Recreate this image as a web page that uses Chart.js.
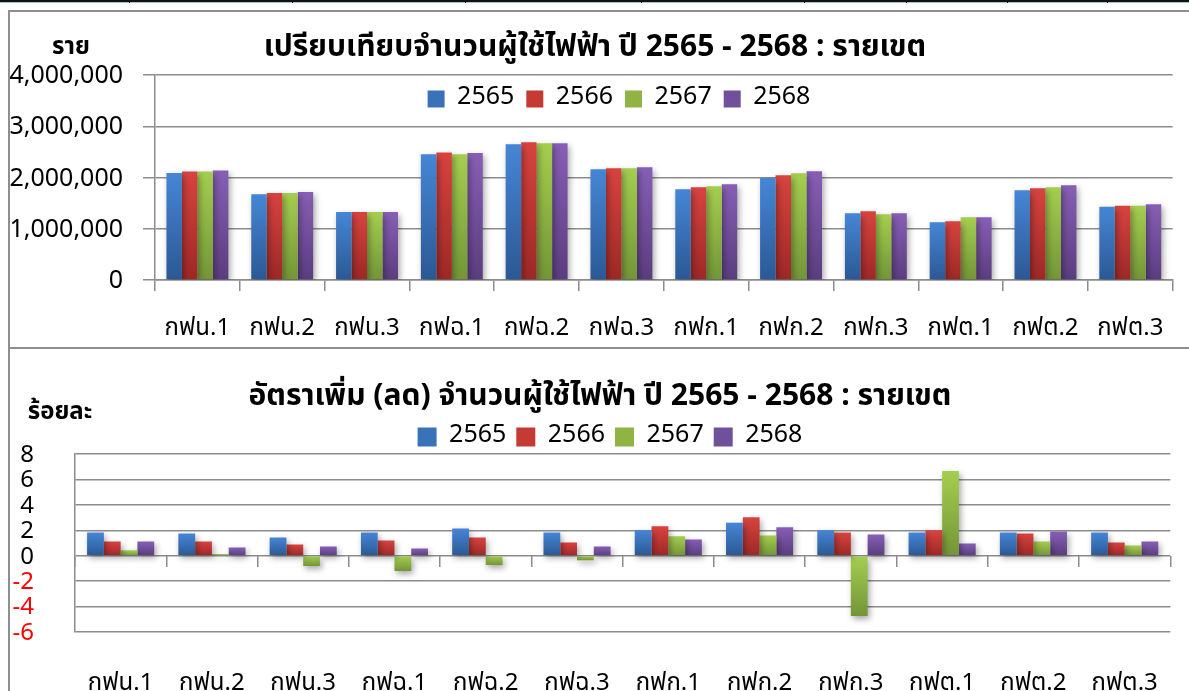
<!DOCTYPE html>
<html>
<head>
<meta charset="utf-8">
<script src="https://cdn.jsdelivr.net/npm/chart.js@4.4.1/dist/chart.umd.min.js"></script>
<style>
  html, body { margin:0; padding:0; background:#fff; width:1189px; height:691px; overflow:hidden; }
  body { position:relative; font-family:"Noto Sans Thai","Noto Sans Thai UI","Leelawadee UI","Tahoma","Noto Sans",sans-serif; }
  .topline { position:absolute; left:0; top:0; width:1189px; height:2px; background:#111; }
  .topline2 { position:absolute; left:0; top:2px; width:1189px; height:1px; background:#9fc7d2; }
  .tick { position:absolute; top:0; width:1px; height:3px; background:#111; }
  .box { position:absolute; left:8px; width:1200px; border:2px solid #8f8f8f; box-sizing:border-box; }
  .cv { position:absolute; left:10px; }
  .txt { position:absolute; white-space:nowrap; color:#000; font-weight:bold; transform:translate(-50%,-50%); line-height:1; }
</style>
</head>
<body>
<div class="topline"></div><div class="topline2"></div>
<div class="tick" style="left:129px"></div><div class="tick" style="left:292px"></div>
<div class="tick" style="left:465px"></div><div class="tick" style="left:641px"></div>
<div class="tick" style="left:804px"></div><div class="tick" style="left:906px"></div>
<div class="tick" style="left:1007px"></div><div class="tick" style="left:1107px"></div>

<div class="box" style="top:10px;height:339px;"></div>
<div class="box" style="top:347px;height:360px;"></div>

<div class="cv" style="top:12px;width:1179px;height:334px;"><canvas id="c1"></canvas></div>
<div class="cv" style="top:349px;width:1179px;height:342px;"><canvas id="c2"></canvas></div>

<div class="txt" style="left:595px;top:47px;font-size:30px;">เปรียบเทียบจำนวนผู้ใช้ไฟฟ้า ปี 2565 - 2568 : รายเขต</div>
<div class="txt" style="left:71px;top:47px;font-size:24px;">ราย</div>
<div class="txt" style="left:600px;top:396px;font-size:30px;">อัตราเพิ่ม (ลด) จำนวนผู้ใช้ไฟฟ้า ปี 2565 - 2568 : รายเขต</div>
<div class="txt" style="left:60px;top:412px;font-size:24px;">ร้อยละ</div>

<script>
// ---------- DATA ----------
const regions = ["กฟน.1","กฟน.2","กฟน.3","กฟฉ.1","กฟฉ.2","กฟฉ.3","กฟก.1","กฟก.2","กฟก.3","กฟต.1","กฟต.2","กฟต.3"];
const years = ["2565","2566","2567","2568"];

// Number of electricity users (persons)
const users2565 = [2087000,1672000,1329000,2456000,2651000,2160000,1770000,1991000,1301000,1126000,1750000,1431000];
const users2566 = [2119000,1698000,1329000,2489000,2690000,2180000,1809000,2043000,1340000,1145000,1789000,1451000];
const users2567 = [2119000,1698000,1329000,2456000,2670000,2180000,1828000,2082000,1282000,1223000,1809000,1451000];
const users2568 = [2139000,1717000,1329000,2476000,2670000,2199000,1867000,2121000,1301000,1223000,1848000,1477000];

// Growth rate (percent)
const growth2565 = [1.82,1.74,1.43,1.82,2.14,1.82,2.00,2.60,2.00,1.82,1.82,1.82];
const growth2566 = [1.12,1.12,0.89,1.20,1.43,1.04,2.32,3.02,1.82,2.00,1.74,1.04];
const growth2567 = [0.42,0.13,-0.81,-1.20,-0.73,-0.36,1.54,1.59,-4.74,6.66,1.12,0.81];
const growth2568 = [1.12,0.65,0.73,0.57,0.00,0.73,1.28,2.24,1.67,0.96,1.90,1.12];

const usersTicks = [0,1000000,2000000,3000000,4000000];
const growthTicks = [-6,-4,-2,0,2,4,6,8];

// ---------- STYLE ----------
const FONT = '"Noto Sans Thai","Noto Sans Thai UI","Leelawadee UI",Tahoma,"Noto Sans",sans-serif';
const GRID = '#8c8c8c';
const palette = [
  {top:'#4686d6', bottom:'#2b5894', solid:'#3a72b8'},
  {top:'#d8433f', bottom:'#9c2826', solid:'#c53a33'},
  {top:'#a5ce4f', bottom:'#739537', solid:'#8fb444'},
  {top:'#875eb5', bottom:'#5a3d7e', solid:'#71509b'}
];

function barGradient(i) {
  return function(c) {
    const chart = c.chart;
    const ys = chart.scales.y;
    if (!ys || c.raw === undefined || !chart.chartArea) return palette[i].solid;
    const p0 = ys.getPixelForValue(0), p1 = ys.getPixelForValue(c.raw);
    const a = Math.min(p0,p1), b = Math.max(p0,p1);
    if (b - a < 1) return palette[i].solid;
    const g = chart.ctx.createLinearGradient(0, a, 0, b);
    g.addColorStop(0, palette[i].top);
    g.addColorStop(1, palette[i].bottom);
    return g;
  };
}

const shadowPlugin = {
  id: 'shadow',
  beforeDatasetsDraw(chart) {
    const ctx = chart.ctx;
    ctx.save();
    ctx.shadowColor = 'rgba(0,0,0,0.35)';
    ctx.shadowBlur = 6;
    ctx.shadowOffsetX = 2;
    ctx.shadowOffsetY = 3;
  },
  afterDatasetsDraw(chart) { chart.ctx.restore(); }
};

// moves the legend after layout (so it can sit inside / beside the plot area as in the original)
const legendShift = {
  id: 'legendShift',
  afterLayout(chart, args, opts) {
    const l = chart.legend;
    if (!l || !opts) return;
    const dy = opts.dy || 0, dx = opts.dx || 0;
    l.top += dy; l.bottom += dy; l.left += dx; l.right += dx;
  }
};

function makeDatasets(series, cat) {
  return series.map((d, i) => ({
    label: years[i],
    data: d,
    backgroundColor: barGradient(i),
    borderWidth: 0,
    barPercentage: 1.0,
    categoryPercentage: cat
  }));
}

function legendLabels(chart) {
  return chart.data.datasets.map((ds, i) => ({
    text: ds.label,
    fillStyle: palette[i].solid,
    strokeStyle: palette[i].solid,
    lineWidth: 0,
    datasetIndex: i,
    fontColor: '#000'
  }));
}

Chart.defaults.font.family = FONT;
Chart.defaults.color = '#000';
Chart.defaults.animation = false;

// ---------- CHART 1 ----------
new Chart(document.getElementById('c1'), {
  type: 'bar',
  data: { labels: regions, datasets: makeDatasets([users2565, users2566, users2567, users2568], 0.73) },
  options: {
    responsive: true,
    maintainAspectRatio: false,
    layout: { padding: { left: 0, right: 15, top: 16, bottom: 0 } },
    plugins: {
      legend: {
        position: 'top',
        align: 'center',
        labels: { boxWidth: 17, boxHeight: 17, padding: 12, font: { size: 25, family: FONT }, color: '#000', generateLabels: legendLabels }
      },
      legendShift: { dy: 46.5, dx: 27 },
      tooltip: { enabled: false }
    },
    scales: {
      x: {
        grid: { display: true, drawOnChartArea: false, drawTicks: true, tickLength: 11, color: GRID, lineWidth: 1.5, offset: true },
        border: { display: true, color: GRID, width: 1.5 },
        ticks: { font: { size: 24, family: FONT }, color: '#000', padding: 25, maxRotation: 0, autoSkip: false },
        afterFit(s) { s.height = 66; }
      },
      y: {
        min: 0, max: 4000000,
        afterBuildTicks(s) { s.ticks = usersTicks.map(v => ({ value: v })); },
        grid: { color: GRID, lineWidth: 1.5, drawTicks: true, tickLength: 12 },
        border: { display: true, color: GRID, width: 1.5 },
        ticks: { font: { size: 25, family: FONT }, color: '#000', padding: 20, autoSkip: false, labelOffset: 3,
                 callback: v => Number(v).toLocaleString('en-US') },
        afterFit(s) { s.width = 145; }
      }
    }
  },
  plugins: [shadowPlugin, legendShift]
});

// ---------- CHART 2 ----------
new Chart(document.getElementById('c2'), {
  type: 'bar',
  data: { labels: regions, datasets: makeDatasets([growth2565, growth2566, growth2567, growth2568], 0.735) },
  options: {
    responsive: true,
    maintainAspectRatio: false,
    layout: { padding: { left: 0, right: 5, top: 60, bottom: 0 } },
    plugins: {
      legend: {
        position: 'top',
        align: 'center',
        labels: { boxWidth: 19, boxHeight: 19, padding: 10, font: { size: 25, family: FONT }, color: '#000', generateLabels: legendLabels }
      },
      legendShift: { dy: 5.5, dx: 13 },
      tooltip: { enabled: false }
    },
    scales: {
      x: {
        grid: { display: false },
        border: { display: false },
        ticks: { font: { size: 24, family: FONT }, color: '#000', padding: 31, maxRotation: 0, autoSkip: false },
        afterFit(s) { s.height = 59; }
      },
      x0: {
        type: 'category',
        position: { y: 0 },
        grid: { display: true, drawOnChartArea: false, drawTicks: true, tickLength: 11, color: GRID, lineWidth: 1.5, offset: true },
        border: { display: false },
        ticks: { display: false }
      },
      y: {
        min: -6, max: 8,
        afterBuildTicks(s) { s.ticks = growthTicks.map(v => ({ value: v })); },
        grid: { color: GRID, lineWidth: 1.5, drawTicks: false },
        border: { display: true, color: GRID, width: 1.5 },
        ticks: { font: { size: 24, family: FONT, lineHeight: 1 }, padding: 41, autoSkip: false, labelOffset: 3,
                 color: c => (c.tick && c.tick.value < 0) ? '#ff0000' : '#000' },
        afterFit(s) { s.width = 65; }
      }
    }
  },
  plugins: [shadowPlugin, legendShift]
});
</script>
</body>
</html>
